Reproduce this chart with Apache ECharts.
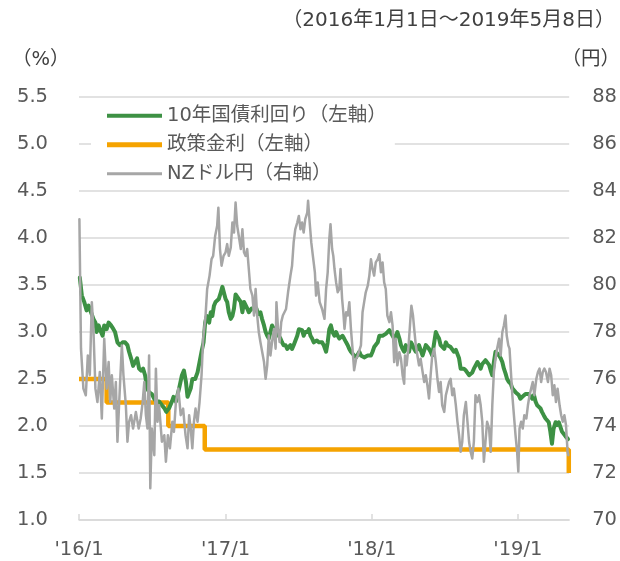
<!DOCTYPE html>
<html>
<head>
<meta charset="utf-8">
<script src="https://cdn.jsdelivr.net/npm/echarts@6/dist/echarts.min.js"></script>
<style>
html, body { margin: 0; padding: 0; background: #fff; }
#chart { width: 620px; height: 561px; }
</style>
</head>
<body>
<div id="chart"></div>
<script>
// x positions are days counted from 2016/1/1
const tickDays = [0, 366, 731, 1096]
const tickLabels = ["'16/1", "'17/1", "'18/1", "'19/1"]

// 政策金利 (step changes)
const policyDays = [0, 69, 223, 314, 1223]
const policyRate = [2.5, 2.25, 2.0, 1.75, 1.5]

// 10年国債利回り
const bondDays = [
    2, 7, 13, 19, 24, 30, 36, 41, 44, 49,
    55, 59, 63, 69, 74, 80, 86, 90, 96, 102,
    109, 115, 121, 125, 130, 135, 140, 145, 150, 155,
    160, 165, 170, 175, 182, 188, 193, 200, 207, 213,
    218, 225, 232, 236, 242, 250, 257, 262, 267, 271,
    275, 279, 283, 290, 296, 301, 306, 311, 315, 319,
    325, 329, 333, 337, 341, 345, 349, 354, 358, 362,
    366, 370, 374, 379, 383, 387, 391, 395, 399, 404,
    408, 412, 416, 420, 424, 431, 437, 443, 447, 453,
    457, 462, 466, 470, 474, 478, 482, 487, 491, 495,
    499, 503, 507, 511, 516, 520, 524, 528, 532, 536,
    540, 545, 549, 553, 557, 561, 565, 570, 574, 578,
    582, 586, 590, 594, 599, 603, 607, 611,
    617, 621, 625, 629, 633, 638, 642, 646, 650, 654,
    658, 662, 667, 671, 675, 679, 683, 687, 692, 696,
    700, 704, 708, 712, 716, 721, 725, 729, 733, 737,
    741, 746, 750, 754, 758, 762, 766, 770, 775, 779,
    783, 787, 791, 795, 800, 804, 808, 812, 816, 820,
    824, 829, 833, 837, 841, 845, 849, 853, 858, 862,
    866, 870, 874, 878, 882, 887, 891, 895, 899, 903,
    907, 912, 916, 920, 924, 928, 932, 936, 941, 945,
    949, 953, 957, 961, 966, 970, 974, 978, 982, 986,
    990, 995, 999, 1003, 1007, 1011, 1015, 1019, 1024, 1028,
    1032, 1036, 1040, 1044, 1049, 1053, 1057, 1061, 1065, 1069,
    1073, 1078, 1082, 1086, 1090, 1094, 1098, 1102, 1107, 1111,
    1115, 1119, 1123, 1127, 1132, 1136, 1140, 1144, 1148, 1152,
    1156, 1161, 1165, 1169, 1173, 1177, 1181, 1185, 1190, 1194,
    1198, 1202, 1206, 1210, 1215, 1219, 1221
]
const bondYield = [
    3.58, 3.39, 3.32, 3.23, 3.28, 3.21, 3.14, 3.10, 3.00, 3.07,
    3.00, 2.96, 3.07, 3.03, 3.10, 3.07, 3.03, 3.00, 2.89, 2.86,
    2.89, 2.89, 2.86, 2.79, 2.72, 2.64, 2.68, 2.72, 2.61, 2.59,
    2.61, 2.54, 2.40, 2.36, 2.34, 2.29, 2.26, 2.26, 2.22, 2.19,
    2.15, 2.19, 2.26, 2.31, 2.26, 2.40, 2.54, 2.59, 2.47, 2.31,
    2.29, 2.40, 2.50, 2.50, 2.57, 2.68, 2.79, 2.89, 3.10, 3.17,
    3.10, 3.21, 3.17, 3.28, 3.32, 3.30, 3.35, 3.42, 3.48, 3.46,
    3.35, 3.32, 3.21, 3.14, 3.17, 3.25, 3.40, 3.42, 3.35, 3.32,
    3.21, 3.32, 3.30, 3.25, 3.21, 3.25, 3.25, 3.25, 3.19, 3.21,
    3.14, 3.07, 3.00, 2.96, 2.93, 3.00, 3.07, 3.03, 3.00, 3.03,
    2.96, 2.93, 2.89, 2.86, 2.86, 2.82, 2.82, 2.86, 2.82, 2.86,
    2.86, 2.96, 3.03, 3.03, 3.02, 2.96, 3.00, 3.00, 3.03, 2.96,
    2.93, 2.89, 2.91, 2.91, 2.89, 2.91, 2.89, 2.86,
    2.79, 2.89, 3.03, 3.07, 3.00, 2.96, 3.00, 2.96, 2.93, 2.94,
    2.96, 2.93, 2.89, 2.86, 2.82, 2.79, 2.77, 2.75, 2.73, 2.75,
    2.79, 2.75, 2.77, 2.73, 2.73, 2.75, 2.73, 2.75, 2.79, 2.84,
    2.86, 2.89, 2.96, 2.94, 2.96, 2.96, 2.98, 3.00, 3.02, 3.00,
    2.96, 2.93, 2.96, 3.00, 2.93, 2.86, 2.82, 2.79, 2.86, 2.82,
    2.79, 2.89, 2.86, 2.82, 2.79, 2.82, 2.86, 2.81, 2.75, 2.77,
    2.86, 2.87, 2.82, 2.79, 2.75, 2.89, 3.00, 2.96, 2.93, 2.86,
    2.86, 2.82, 2.89, 2.86, 2.86, 2.84, 2.82, 2.79, 2.81, 2.79,
    2.72, 2.61, 2.59, 2.61, 2.59, 2.57, 2.54, 2.52, 2.57, 2.61,
    2.61, 2.68, 2.65, 2.61, 2.66, 2.68, 2.70, 2.68, 2.65, 2.59,
    2.54, 2.68, 2.79, 2.80, 2.75, 2.72, 2.68, 2.61, 2.56, 2.50,
    2.47, 2.45, 2.40, 2.40, 2.36, 2.38, 2.33, 2.29, 2.31, 2.33,
    2.34, 2.36, 2.34, 2.33, 2.29, 2.33, 2.26, 2.22, 2.20, 2.19,
    2.15, 2.11, 2.08, 2.08, 2.04, 1.94, 1.81, 1.97, 2.04, 2.01,
    2.04, 1.99, 1.94, 1.92, 1.89, 1.87, 1.86
]

// NZドル円
const nzdDays = [
    1, 5, 11, 17, 22, 27, 32, 36, 41, 46,
    52, 57, 63, 69, 74, 78, 82, 88, 92, 96,
    100, 107, 111, 117, 121, 125, 130, 135, 142, 149,
    154, 159, 163, 167, 171, 175, 178, 182, 188, 192,
    196, 200, 207, 213, 217, 222, 227, 233, 237, 242,
    248, 254, 260, 266, 271, 275, 279, 283, 287, 291,
    296, 301, 306, 310, 316, 320, 326, 331, 335, 340,
    345, 348, 352, 356, 361, 366, 370, 374, 379, 383,
    387, 391, 395, 399, 404, 408, 412, 416, 420, 424,
    428, 433, 437, 441, 445, 449, 453, 457, 462, 466,
    470, 474, 478, 482, 487, 491, 493, 497, 501, 505,
    509, 513, 517, 522, 528, 532, 536, 540, 545, 549,
    553, 557, 561, 565, 570, 572, 576, 580, 584, 589,
    592, 596, 601, 607, 613,
    617, 621, 625, 628, 632, 635, 638, 642, 646, 650,
    653, 657, 660, 663, 667, 671, 675, 679, 683, 687,
    692, 696, 700, 704, 708, 712, 716, 721, 725, 729,
    733, 737, 741, 746, 750, 754, 758, 762, 766, 770,
    775, 779, 783, 787, 791, 795, 800, 804, 808, 812,
    814, 818, 823, 827, 830, 834, 837, 841, 845, 849,
    853, 858, 862, 866, 870, 874, 878, 882, 887, 891,
    895, 899, 903, 907, 912, 916, 920, 924, 928, 932,
    936, 941, 945, 949, 953, 957, 961, 966, 970, 974,
    978, 982, 986, 990, 995, 999, 1003, 1007, 1011, 1015,
    1019, 1024, 1028, 1032, 1036, 1040, 1044, 1049, 1053, 1057,
    1061, 1065, 1068, 1072, 1075, 1078, 1082, 1086, 1090, 1094,
    1097, 1100, 1104, 1108, 1112, 1117, 1121, 1125, 1129, 1133,
    1137, 1142, 1146, 1150, 1154, 1158, 1162, 1166, 1171, 1175,
    1179, 1183, 1187, 1191, 1195, 1200, 1204, 1208, 1212, 1216,
    1220, 1222
]
const nzdYen = [
    82.80, 77.29, 75.59, 75.31, 77.00, 76.16, 79.27, 78.13, 75.59, 75.02,
    76.30, 74.32, 77.71, 75.59, 76.72, 75.02, 76.16, 74.74, 75.87, 73.33,
    74.88, 77.43, 76.16, 74.88, 73.33, 74.18, 74.46, 73.89, 74.60, 73.89,
    74.32, 75.02, 75.87, 74.46, 73.89, 77.00, 71.35, 73.89, 72.76, 76.44,
    74.18, 74.88, 73.33, 73.61, 72.48, 73.61, 73.05, 74.18, 73.75, 75.02,
    75.59, 74.46, 74.74, 73.61, 73.05, 74.46, 73.89, 73.05, 74.18, 74.74,
    74.18, 75.02, 76.16, 77.71, 78.70, 79.83, 80.40, 81.10, 81.24, 82.09,
    82.52, 83.29, 81.53, 80.82, 81.24, 81.39, 81.74, 81.24, 81.60, 82.66,
    82.23, 83.51, 82.52, 82.09, 81.53, 82.37, 81.39, 81.24, 81.53, 80.68,
    79.83, 79.55, 78.70, 79.83, 78.70, 77.99, 77.57, 77.57, 76.72, 76.01,
    76.58, 77.85, 77.00, 77.57, 78.13, 77.29, 79.27, 78.13, 77.57, 78.42,
    78.70, 78.70, 78.98, 79.69, 80.40, 80.82, 81.81, 82.37, 82.66, 82.94,
    82.37, 82.66, 82.23, 82.80, 83.08, 83.58, 82.66, 81.81, 81.24, 80.54,
    79.55, 80.11, 79.27, 78.98, 78.56,
    79.83, 80.54, 81.95, 82.59, 81.53, 81.24, 80.68, 80.11, 79.69, 79.83,
    80.68, 79.41, 78.84, 78.13, 78.84, 78.70, 79.27, 78.13, 77.29, 76.37,
    76.86, 77.00, 77.00, 77.43, 78.84, 79.27, 79.69, 79.97, 80.40, 81.10,
    80.68, 80.40, 80.96, 81.10, 81.31, 80.54, 80.96, 80.11, 79.83, 78.70,
    78.42, 78.84, 78.28, 76.72, 77.71, 76.58, 77.14, 76.86, 76.16, 75.80,
    77.00, 76.58, 77.43, 78.42, 79.12, 78.70, 78.13, 77.43, 77.00, 76.58,
    76.86, 76.30, 75.87, 76.16, 75.73, 75.17, 76.16, 77.00, 77.29, 76.72,
    76.01, 75.45, 75.87, 74.88, 74.60, 75.31, 75.59, 75.87, 76.01, 75.31,
    75.59, 74.88, 74.18, 73.61, 72.90, 73.33, 74.46, 75.02, 74.18, 73.33,
    72.90, 72.62, 73.33, 75.31, 75.02, 75.31, 74.88, 74.18, 72.48, 73.33,
    74.18, 73.89, 72.90, 74.88, 76.30, 76.86, 77.29, 77.71, 77.00, 77.99,
    78.28, 78.70, 77.85, 77.43, 77.29, 76.44, 75.31, 74.46, 73.61, 72.90,
    72.06, 73.89, 74.18, 73.89, 74.46, 74.32, 74.88, 75.31, 75.59, 75.87,
    75.31, 76.01, 76.30, 76.44, 75.87, 76.30, 76.44, 76.30, 75.87, 76.44,
    76.16, 75.31, 75.73, 75.02, 75.59, 74.88, 74.46, 74.18, 74.46, 74.04,
    72.90, 72.76
]

const FONT = 'DejaVu Sans, "Noto Sans CJK JP", sans-serif'
const labelColor = '#595959'
const gridColor = '#d9d9d9'
const green = '#3d9144'
const orange = '#f5a300'
const gray = '#a6a6a6'

const pairs = (days, vals) => days.map((d, i) => [d, vals[i]])
// flat bar used as legend sample, thickness per series
const barIcon = h => 'path://M0,0H110V' + h + 'H0Z'

const chart = echarts.init(document.getElementById('chart'))
chart.setOption({
    animation: false,
    textStyle: { fontFamily: FONT },
    grid: { left: 79, right: 50, top: 97, bottom: 41 },
    graphic: [
        { type: 'text', right: 5, top: 11, style: { text: '（2016年1月1日～2019年5月8日）', font: '20px ' + FONT, fill: '#404040' } },
        { type: 'text', left: 12, top: 50, style: { text: '（%）', font: '19.5px ' + FONT, fill: '#404040' } },
        { type: 'text', right: 0, top: 50, style: { text: '（円）', font: '19.5px ' + FONT, fill: '#404040' } }
    ],
    legend: {
        orient: 'vertical',
        left: 91,
        top: 99,
        padding: [7, 8, 4, 16],
        backgroundColor: '#fff',
        itemWidth: 55,
        itemHeight: 14,
        itemGap: 9.5,
        textStyle: { fontFamily: FONT, fontSize: 19.5, color: labelColor },
        data: [
            { name: '10年国債利回り（左軸）', icon: barIcon(8) },
            { name: '政策金利（左軸）', icon: barIcon(10) },
            { name: 'NZドル円（右軸）', icon: barIcon(6) }
        ]
    },
    xAxis: {
        type: 'value',
        min: 0,
        max: 1224,
        axisLine: { lineStyle: { color: gridColor, width: 1.5 } },
        axisTick: { show: true, inside: true, length: 6, customValues: tickDays, lineStyle: { color: gridColor, width: 1.5 } },
        axisLabel: {
            customValues: tickDays,
            margin: 20,
            fontSize: 19.5,
            color: labelColor,
            fontFamily: FONT,
            formatter: v => tickLabels[tickDays.indexOf(v)]
        },
        splitLine: { show: false }
    },
    yAxis: [
        {
            type: 'value',
            min: 1,
            max: 5.5,
            interval: 0.5,
            axisLine: { show: false },
            axisTick: { show: false },
            axisLabel: { margin: 31, fontSize: 19.5, color: labelColor, fontFamily: FONT, formatter: v => v.toFixed(1) },
            splitLine: { lineStyle: { color: gridColor, width: 1.5 } }
        },
        {
            type: 'value',
            min: 70,
            max: 88,
            interval: 2,
            axisLine: { show: false },
            axisTick: { show: false },
            axisLabel: { margin: 23, fontSize: 19.5, color: labelColor, fontFamily: FONT },
            splitLine: { show: false }
        }
    ],
    series: [
        {
            name: '10年国債利回り（左軸）',
            type: 'line',
            yAxisIndex: 0,
            symbol: 'none',
            z: 3,
            data: pairs(bondDays, bondYield),
            lineStyle: { width: 4, color: green, join: 'round', cap: 'round' },
            itemStyle: { color: green }
        },
        {
            name: '政策金利（左軸）',
            type: 'line',
            yAxisIndex: 0,
            step: 'end',
            symbol: 'none',
            z: 2,
            data: pairs(policyDays, policyRate),
            lineStyle: { width: 4.5, color: orange },
            itemStyle: { color: orange }
        },
        {
            name: 'NZドル円（右軸）',
            type: 'line',
            yAxisIndex: 1,
            symbol: 'none',
            z: 4,
            data: pairs(nzdDays, nzdYen),
            lineStyle: { width: 2.5, color: gray, join: 'round', cap: 'round' },
            itemStyle: { color: gray }
        }
    ]
})
</script>
</body>
</html>
